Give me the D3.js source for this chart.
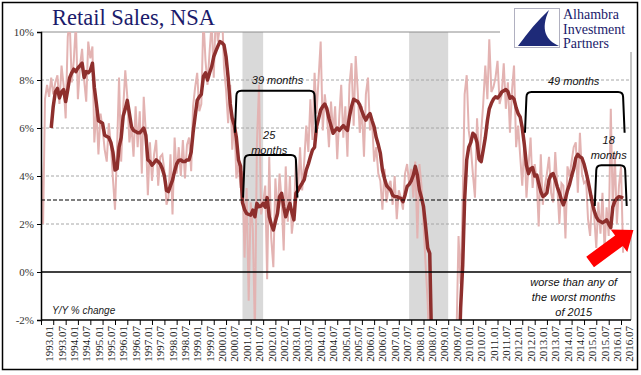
<!DOCTYPE html>
<html>
<head>
<meta charset="utf-8">
<script src="https://cdn.jsdelivr.net/npm/d3@7"></script>
<style>
  body { margin: 0; background: #fff; }
  svg { display: block; }
</style>
</head>
<body>
<svg width="641" height="375"></svg>
<script>
'use strict';

// monthly retail sales, y/y % change (not seasonally adjusted), from 1993.01
const monthlyStart = '1993-01'
const monthlyYoY = [
  4.7, 2.0, 7.2, 7.8, 7.3, 8.1, 7.4, 7.9, 8.2, 7.0, 8.6, 7.8,
  6.4, 9.8, 10.5, 7.9, 8.8, 10.4, 7.2, 8.6, 9.3, 8.0, 7.1, 9.6,
  8.9, 9.4, 5.4, 6.8, 4.9, 6.6, 6.0, 5.1, 4.6, 6.2, 5.3, 3.9,
  2.6, 5.2, 8.1, 4.6, 6.8, 8.4, 7.3, 5.4, 6.1, 4.8, 6.9, 5.2,
  6.7, 4.1, 7.3, 5.8, 3.2, 5.4, 3.8, 4.9, 5.5, 3.6, 4.8, 4.9,
  4.2, 2.8, 3.1, 4.9, 2.4, 5.6, 4.1, 5.2, 4.0, 5.5, 3.9, 5.3,
  5.6, 4.2, 6.9, 7.7, 8.3, 6.7, 7.0, 10.6, 8.8, 7.8, 9.2, 10.4,
  8.1, 10.9, 9.6, 10.2, 11.0, 8.5, 7.6, 6.2, 7.8, 5.1, 6.4, 3.9,
  4.6, 3.5, 4.2, 0.6, 3.5, -1.2, 2.9, 1.8, -2.5, 5.4, 7.8, 2.4,
  2.9, 3.6, -0.3, 4.8, 1.4, 0.2, 3.9, 2.3, 4.1, 3.0, 0.9, 4.4,
  2.1, 4.0, 1.6, 2.4, 4.7, 3.3, 5.2, 3.4, 4.6, 6.1, 5.0, 7.2,
  5.5, 8.3, 6.6, 8.1, 9.6, 5.9, 7.4, 6.6, 5.2, 7.1, 5.8, 6.9,
  4.7, 6.5, 7.8, 5.6, 6.9, 4.8, 7.8, 8.7, 6.1, 9.0, 7.5, 5.8,
  6.9, 4.8, 7.4, 8.1, 5.9, 6.3, 4.6, 5.2, 4.1, 3.8, 2.6, 4.3,
  2.9, 3.6, 3.8, 2.8, 4.0, 2.2, 3.4, 3.1, 2.6, 4.1, 4.5, 3.7,
  4.3, 3.1, 4.6, 1.4, 4.5, 3.6, 2.0, 0.3, -1.3, -4.0, -7.0, -8.5,
  -9.5, -10.0, -9.0, -10.0, -9.0, -9.5, -8.0, -8.0, -6.0, -3.0, -2.6, 1.5,
  -0.5, 3.0, 7.4, 8.2, 5.9, 5.2, 4.1, 3.1, 6.4, 4.6, 5.8, 7.0,
  8.6, 7.2, 9.7, 7.5, 7.7, 8.1, 8.8, 7.0, 7.4, 8.7, 6.8, 7.9,
  5.8, 7.6, 8.6, 5.2, 6.1, 4.8, 3.6, 5.5, 3.1, 4.4, 5.6, 3.5,
  4.5, 3.8, 1.9, 4.9, 2.8, 3.6, 4.1, 4.8, 3.3, 2.9, 5.0, 3.6,
  2.0, 3.7, 3.6, 1.4, 4.4, 4.0, 4.6, 5.2, 5.4, 3.3, 5.8, 4.1,
  3.7, 3.8, 2.2, 1.5, 3.2, 2.3, 1.0, 2.9, 1.6, 3.3, 0.9, 2.7,
  1.5, 6.8, 2.6, 4.9, 2.0, 3.6, 4.4, 0.8
]

// 6-month average, from 1993.06
const averageStart = '1993-06'
const averageYoY = [
  6.0, 6.9, 7.5, 7.65, 7.25, 7.5, 7.6,
  7.1, 7.6, 8.1, 8.3, 8.45, 8.35, 8.5, 8.6, 8.7, 8.1, 8.35, 8.3,
  8.4, 8.7, 7.7, 7.0, 6.3, 6.25, 6.2, 5.7, 5.65, 5.6, 5.4, 5.0,
  4.25, 4.3, 5.2, 5.6, 6.5, 6.8, 7.15, 6.6, 6.05, 5.9, 5.85, 5.8,
  5.8, 5.9, 6.0, 5.7, 4.67, 4.6, 4.45, 4.55, 4.67, 4.6, 4.5, 4.3,
  4.0, 3.4, 3.35, 3.6, 3.83, 4.2, 4.5, 4.65, 4.67, 4.6, 4.6, 4.67,
  4.67, 5.0, 5.8, 6.5, 7.15, 7.3, 7.4, 8.15, 8.3, 8.0, 8.3, 8.55,
  8.97, 9.2, 9.4, 9.6, 9.55, 9.46, 8.97, 8.1, 7.0, 6.4, 6.1, 5.6,
  4.67, 4.4, 2.9, 2.6, 2.44, 2.4, 2.37, 2.58, 2.3, 2.86, 2.72, 2.75,
  2.86, 2.7, 3.1, 2.3, 2.0, 1.75, 2.1, 2.44, 3.14, 3.28, 2.72, 2.3,
  2.6, 2.86, 2.5, 2.17, 3.28, 3.4, 3.56, 3.7, 3.85, 4.25, 4.5, 4.8,
  5.08, 5.2, 6.05, 6.4, 6.75, 6.9, 7.0, 6.8, 6.4, 6.1, 5.78, 5.9,
  6.0, 5.9, 6.0, 6.1, 6.0, 5.9, 6.47, 6.9, 7.2, 7.15, 7.1, 6.96,
  6.7, 6.47, 6.33, 6.5, 6.6, 6.3, 6.05, 5.6, 5.3, 4.95, 4.25, 3.9,
  3.6, 3.5, 3.42, 3.2, 3.15, 3.14, 3.1, 3.07, 2.93, 3.2, 3.56, 3.65,
  3.8, 4.04, 4.4, 4.04, 3.42, 3.1, 2.72, 1.9, 1.0, 0.78, -3.5, -5.5,
  -7.0, -8.0, -9.0, -9.5, -9.8, -9.5, -9.0, -8.5, -8.0, -7.0, -6.0, -4.5,
  -1.5, 0.3, 3.0, 4.67, 5.2, 5.4, 5.78, 5.7, 5.4, 4.7, 4.6, 5.08,
  5.6, 6.3, 6.8, 7.03, 7.2, 7.3, 7.25, 7.35, 7.5, 7.55, 7.6, 7.52,
  7.24, 7.3, 7.2, 6.85, 6.6, 6.45, 6.0, 5.3, 4.45, 4.1, 4.3, 4.35,
  4.0, 4.04, 3.7, 3.35, 3.15, 3.2, 3.3, 3.85, 4.05, 4.1, 3.85, 3.55,
  3.3, 3.0, 2.8, 3.05, 3.4, 3.65, 4.0, 4.3, 4.75, 4.9, 4.8, 4.75,
  4.5, 4.15, 3.8, 3.35, 2.9, 2.55, 2.3, 2.15, 2.1, 2.05, 2.1, 2.17,
  2.0, 1.85, 2.7, 2.95, 3.07, 3.14, 3.12, 3.07
]

const recessions = [['2001-03', '2002-01'], ['2007-12', '2009-07']]
const yTicks = [-2, 0, 2, 4, 6, 8, 10]
const gridLevels = [2, 4, 6, 8]
const refLevel = 3

const brackets = [
  {from: '2000-12', to: '2004-02', low: 5.8, high: 7.55, text: ['39 months'], textAt: ['2002-08', 7.85]},
  {from: '2001-04', to: '2003-05', low: 3.1, high: 4.87, text: ['25', 'months'], textAt: ['2002-04', 5.55]},
  {from: '2012-09', to: '2016-08', low: 5.8, high: 7.5, text: ['49 months'], textAt: ['2014-08', 7.78]},
  {from: '2015-07', to: '2016-09', low: 2.75, high: 4.45, text: ['18', 'months'], textAt: ['2016-01', 5.35]}
]
const note = ['worse than any of', 'the worst months', 'of 2015']
const arrowFrom = ['2015-04', 0.42]
const arrowTo = ['2017-01', 1.75]
const logoLines = ['Alhambra', 'Investment', 'Partners']

const svg = d3.select('svg')
const parseMonth = d3.timeParse('%Y-%m')
const plot = {left: 41, right: 631, top: 32, bottom: 320}

const x = d3.scaleTime()
  .domain([parseMonth('1993-01'), parseMonth('2016-08')])
  .range([41, 623.1])
const y = d3.scaleLinear()
  .domain([-2, 10])
  .range([plot.bottom, plot.top])

const seriesFrom = (start, values) => {
  const t0 = parseMonth(start)
  return values.map((v, i) => ({date: d3.timeMonth.offset(t0, i), value: v}))
}
const monthly = seriesFrom(monthlyStart, monthlyYoY)
const average = seriesFrom(averageStart, averageYoY)

// outer frame
svg.append('rect')
  .attr('x', 2.5).attr('y', 2.5).attr('width', 635).attr('height', 367)
  .style('fill', 'none').style('stroke', '#000').style('stroke-width', 1.5)

svg.append('defs').append('clipPath').attr('id', 'plotClip')
  .append('rect')
  .attr('x', plot.left).attr('y', plot.top)
  .attr('width', plot.right - plot.left).attr('height', plot.bottom - plot.top)

const g = svg.append('g')

// recession shading
g.selectAll('rect.rec')
  .data(recessions)
  .enter().append('rect').classed('rec', true)
  .attr('x', (d) => x(parseMonth(d[0])))
  .attr('width', (d) => x(parseMonth(d[1])) - x(parseMonth(d[0])))
  .attr('y', plot.top)
  .attr('height', plot.bottom - plot.top)
  .style('fill', '#d9d9d9')

// grid
g.selectAll('line.grid')
  .data(gridLevels)
  .enter().append('line').classed('grid', true)
  .attr('x1', plot.left).attr('x2', plot.right)
  .attr('y1', (d) => y(d)).attr('y2', (d) => y(d))
  .style('stroke', '#a6a6a6').style('stroke-width', 1).style('stroke-dasharray', '3,2')

g.append('line')
  .attr('x1', plot.left).attr('x2', plot.right)
  .attr('y1', y(10)).attr('y2', y(10))
  .style('stroke', '#8c8c8c').style('stroke-width', 1)

g.append('line')
  .attr('x1', plot.right).attr('x2', plot.right)
  .attr('y1', y(10)).attr('y2', y(-2))
  .style('stroke', '#8c8c8c').style('stroke-width', 1)

// lines
const line = d3.line()
  .x((d) => x(d.date))
  .y((d) => y(d.value))

const lines = g.append('g').attr('clip-path', 'url(#plotClip)')
lines.append('path')
  .attr('d', line(monthly))
  .style('fill', 'none').style('stroke', '#e3b3b2').style('stroke-width', 2)
lines.append('path')
  .attr('d', line(average))
  .style('fill', 'none').style('stroke', '#8e2f2d').style('stroke-width', 3.5)
  .style('stroke-linejoin', 'round')

g.append('line')
  .attr('x1', plot.left).attr('x2', plot.right)
  .attr('y1', y(refLevel)).attr('y2', y(refLevel))
  .style('stroke', '#000').style('stroke-width', 1.2).style('stroke-dasharray', '4,2')

g.append('line')
  .attr('x1', plot.left).attr('x2', plot.right)
  .attr('y1', y(0)).attr('y2', y(0))
  .style('stroke', '#000').style('stroke-width', 1.5)

// axes
const halfYears = d3.timeMonth.every(6).range(parseMonth('1993-01'), parseMonth('2016-08'))
const xAxis = d3.axisBottom(x)
  .tickValues(halfYears)
  .tickSize(5)
  .tickFormat(d3.timeFormat('%Y.%m'))
const xg = g.append('g')
  .attr('transform', 'translate(0,' + plot.bottom + ')')
  .call(xAxis)
xg.select('.domain').attr('d', 'M' + plot.left + ',0H' + plot.right).style('stroke', '#000').style('stroke-width', 1.5)
xg.selectAll('.tick line').style('stroke', '#000')
xg.selectAll('.tick text')
  .attr('transform', 'translate(8,6) rotate(-90)')
  .attr('x', 0).attr('y', 0).attr('dy', '0.35em')
  .style('text-anchor', 'end')
  .style('font-family', 'Liberation Serif')
  .style('font-size', '11px')
  .style('fill', '#222')

const yAxis = d3.axisLeft(y)
  .tickValues(yTicks)
  .tickSize(4)
  .tickFormat((d) => d + '%')
const yg = g.append('g')
  .attr('transform', 'translate(' + plot.left + ',0)')
  .call(yAxis)
yg.select('.domain').style('stroke', '#000').style('stroke-width', 1.5)
yg.selectAll('.tick line').style('stroke', '#000')
yg.selectAll('.tick text')
  .attr('x', -7)
  .style('font-family', 'Liberation Serif')
  .style('font-size', '11px')
  .style('fill', '#333')

// brackets
const bracketPath = (b) => {
  const x1 = x(parseMonth(b.from))
  const x2 = x(parseMonth(b.to))
  const yb = y(b.low)
  const yt = y(b.high)
  const r = 5
  return 'M' + (x1 - 1.5) + ',' + yb + 'L' + x1 + ',' + (yt + r) +
    'Q' + x1 + ',' + yt + ' ' + (x1 + r) + ',' + yt +
    'L' + (x2 - r) + ',' + yt + 'Q' + x2 + ',' + yt + ' ' + x2 + ',' + (yt + r) +
    'L' + (x2 + 1.5) + ',' + yb
}
g.selectAll('path.bracket')
  .data(brackets)
  .enter().append('path').classed('bracket', true)
  .attr('d', bracketPath)
  .style('fill', 'none').style('stroke', '#000').style('stroke-width', 2)

brackets.forEach((b) => {
  const t = g.append('text')
    .attr('x', x(parseMonth(b.textAt[0])))
    .attr('y', y(b.textAt[1]))
    .style('text-anchor', 'middle')
    .style('font-family', 'Liberation Sans')
    .style('font-style', 'italic')
    .style('font-size', '11px')
    .style('fill', '#111')
  b.text.forEach((s, i) => {
    t.append('tspan').attr('x', x(parseMonth(b.textAt[0]))).attr('dy', i === 0 ? 0 : 15).text(s)
  })
})

// note + arrow
const noteText = g.append('text')
  .attr('x', x(parseMonth('2014-08')))
  .attr('y', y(-0.6))
  .style('text-anchor', 'middle')
  .style('font-family', 'Liberation Sans')
  .style('font-style', 'italic')
  .style('font-size', '11px')
  .style('fill', '#111')
note.forEach((s, i) => {
  noteText.append('tspan').attr('x', x(parseMonth('2014-08'))).attr('dy', i === 0 ? 0 : 15).text(s)
})

const ax0 = x(parseMonth(arrowFrom[0]))
const ay0 = y(arrowFrom[1])
const ax1 = x(parseMonth(arrowTo[0]))
const ay1 = y(arrowTo[1])
const ang = Math.atan2(ay1 - ay0, ax1 - ax0)
const len = Math.hypot(ax1 - ax0, ay1 - ay0)
const headLen = 18
g.append('path')
  .attr('d', 'M0,-6.5L' + (len - headLen) + ',-6.5L' + (len - headLen) + ',-14L' + len + ',0L' +
    (len - headLen) + ',14L' + (len - headLen) + ',6.5L0,6.5Z')
  .attr('transform', 'translate(' + ax0 + ',' + ay0 + ') rotate(' + (ang * 180 / Math.PI) + ')')
  .style('fill', '#ff0000')

g.append('text')
  .attr('x', 52).attr('y', 314)
  .style('font-family', 'Liberation Sans')
  .style('font-style', 'italic')
  .style('font-size', '10px')
  .style('fill', '#222')
  .text('Y/Y % change')

// title
svg.append('text')
  .attr('x', 52).attr('y', 25)
  .style('font-family', 'Liberation Serif')
  .style('font-size', '22.5px')
  .style('fill', '#1b1b6b')
  .text('Retail Sales, NSA')

// logo
const logo = svg.append('g')
logo.append('rect')
  .attr('x', 500).attr('y', 4).attr('width', 136).attr('height', 48)
  .style('fill', '#fff')
logo.append('rect')
  .attr('x', 514.5).attr('y', 8.5).attr('width', 45).attr('height', 39)
  .style('fill', '#fff').style('stroke', '#b0b0c0').style('stroke-width', 1)
logo.append('path')
  .attr('d', 'M549,10 C538,20 528,32 518,46 L559,46 C546,40 540,30 549,10 Z')
  .style('fill', '#1e2a78')
logo.selectAll('text')
  .data(logoLines)
  .enter().append('text')
  .attr('x', 563)
  .attr('y', (d, i) => 19 + i * 14.5)
  .style('font-family', 'Liberation Serif')
  .style('font-size', '14px')
  .style('fill', '#1b1b6b')
  .text((d) => d)
</script>
</body>
</html>
